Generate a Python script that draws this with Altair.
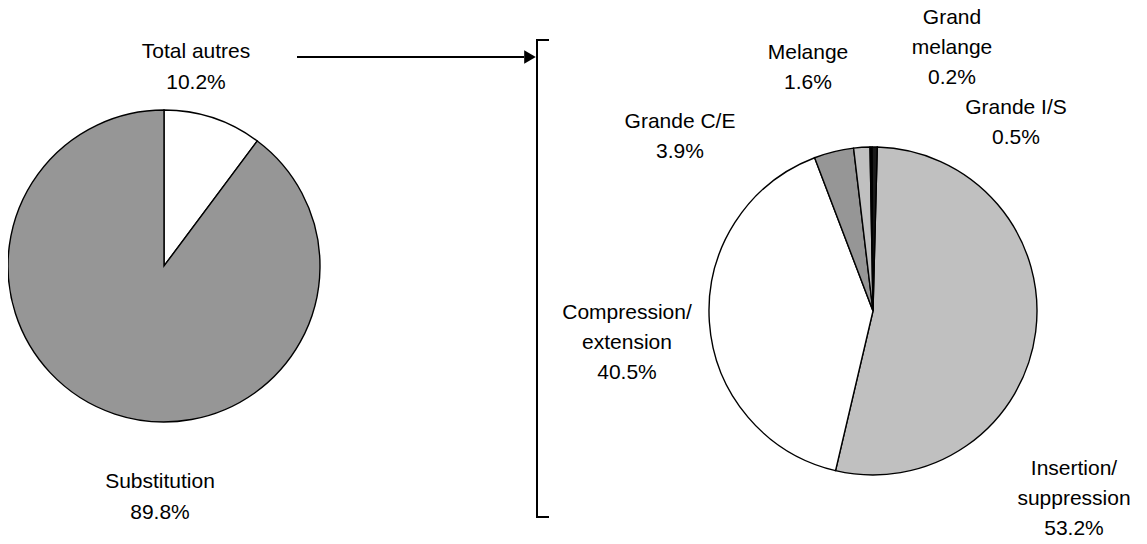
import math
import altair as alt
import pandas as pd

# ---- data ----
left_cats = ["Total autres", "Substitution"]
left_vals = [10.2, 89.8]
left_label_names = ["Total autres", "Substitution"]

right_cats = ["Insertion/suppression", "Compression/extension", "Grande C/E",
              "Melange", "Grand melange", "Grande I/S"]
right_vals = [53.2, 40.5, 3.9, 1.6, 0.2, 0.5]
right_label_names = ["Insertion/\nsuppression", "Compression/\nextension", "Grande C/E",
                     "Melange", "Grand\nmelange", "Grande I/S"]

# ---- styles / layout ----
left_colors = ["#ffffff", "#969696"]
right_colors = ["#c0c0c0", "#ffffff", "#969696", "#c0c0c0", "#000000", "#1a1a1a"]

# label anchors (first line of each text block, chart coordinates)
left_label_xy = {"Total autres": (188, 44), "Substitution": (152, 474)}
right_label_xy = {
    "Insertion/suppression": (1066, 461),
    "Compression/extension": (619, 305),
    "Grande C/E": (672, 114),
    "Melange": (800, 45),
    "Grand melange": (944, 10),
    "Grande I/S": (1008, 100),
}

FONT = "Liberation Sans"
FS = 21
LH = 31


def make_df(cats, vals, names, xy):
    return pd.DataFrame({
        "cat": cats,
        "value": vals,
        "idx": list(range(len(cats))),
        "label": [f"{n}\n{v}%" for n, v in zip(names, vals)],
        "lx": [xy[c][0] for c in cats],
        "ly": [xy[c][1] for c in cats],
    })


left_df = make_df(left_cats, left_vals, left_label_names, left_label_xy)
right_df = make_df(right_cats, right_vals, right_label_names, right_label_xy)


def pie(df, cats, colors, cx, cy, r, start):
    return alt.Chart(df).mark_arc(radius=r, stroke="black", strokeWidth=1.4).encode(
        theta=alt.Theta("value:Q", stack=True,
                        scale=alt.Scale(range=[start, start + 2 * math.pi])),
        order=alt.Order("idx:Q"),
        color=alt.Color("cat:N", scale=alt.Scale(domain=cats, range=colors), legend=None),
        x=alt.value(cx),
        y=alt.value(cy),
    )


def labels(df, lh):
    return alt.Chart(df).mark_text(
        font=FONT, fontSize=FS, lineBreak="\n", lineHeight=lh,
        align="center", baseline="middle", color="black"
    ).encode(
        x=alt.X("lx:Q", scale=None),
        y=alt.Y("ly:Q", scale=None),
        text="label:N",
    )


left_pie = pie(left_df, left_cats, left_colors, 156, 258, 156, 0.0)
right_pie = pie(right_df, right_cats, right_colors, 865, 303, 164, 0.026)

# arrow + bracket (annotations)
anno = pd.DataFrame({"k": [0]})
arrow_line = alt.Chart(anno).mark_rule(color="black", strokeWidth=2).encode(
    x=alt.value(289), x2=alt.value(516), y=alt.value(49))
arrow_head = alt.Chart(anno).mark_point(shape="triangle-right", filled=True, color="black",
                                        size=180, opacity=1).encode(
    x=alt.value(522), y=alt.value(49))
br_v = alt.Chart(anno).mark_rule(color="black", strokeWidth=2).encode(
    x=alt.value(529), y=alt.value(32), y2=alt.value(509))
br_t = alt.Chart(anno).mark_rule(color="black", strokeWidth=2).encode(
    x=alt.value(528), x2=alt.value(541), y=alt.value(32))
br_b = alt.Chart(anno).mark_rule(color="black", strokeWidth=2).encode(
    x=alt.value(528), x2=alt.value(541), y=alt.value(509))

chart = alt.layer(
    left_pie, right_pie, labels(left_df, LH), labels(right_df, 30),
    arrow_line, arrow_head, br_v, br_t, br_b
).resolve_scale(
    theta="independent", color="independent"
).properties(
    width=1131, height=528, padding=0, autosize="none"
).configure_view(stroke=None)

chart.save("out.html", embed_options={"renderer": "svg", "actions": False})
